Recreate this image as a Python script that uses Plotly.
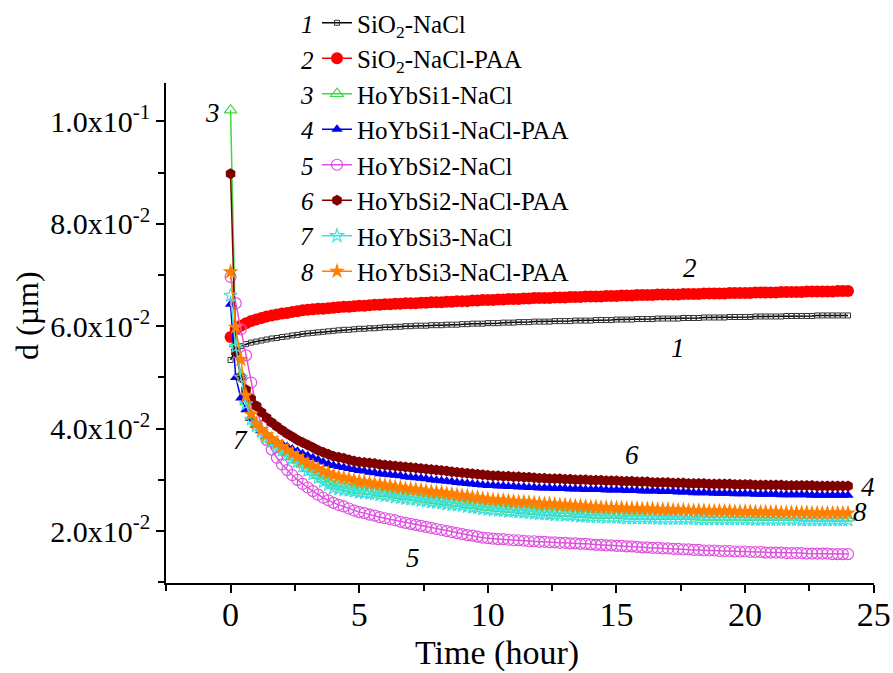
import plotly.graph_objects as go

# Sampling times (hours)
TIME_H = [
    0.0, 0.2, 0.4, 0.6, 0.8, 1.0, 1.2, 1.4, 1.6, 1.8,
    2.0, 2.2, 2.4, 2.6, 2.8, 3.0, 3.2, 3.4, 3.6, 3.8,
    4.0, 4.2, 4.4, 4.6, 4.8, 5.0, 5.2, 5.4, 5.6, 5.8,
    6.0, 6.2, 6.4, 6.6, 6.8, 7.0, 7.2, 7.4, 7.6, 7.8,
    8.0, 8.2, 8.4, 8.6, 8.8, 9.0, 9.2, 9.4, 9.6, 9.8,
    10.0, 10.2, 10.4, 10.6, 10.8, 11.0, 11.2, 11.4, 11.6, 11.8,
    12.0, 12.2, 12.4, 12.6, 12.8, 13.0, 13.2, 13.4, 13.6, 13.8,
    14.0, 14.2, 14.4, 14.6, 14.8, 15.0, 15.2, 15.4, 15.6, 15.8,
    16.0, 16.2, 16.4, 16.6, 16.8, 17.0, 17.2, 17.4, 17.6, 17.8,
    18.0, 18.2, 18.4, 18.6, 18.8, 19.0, 19.2, 19.4, 19.6, 19.8,
    20.0, 20.2, 20.4, 20.6, 20.8, 21.0, 21.2, 21.4, 21.6, 21.8,
    22.0, 22.2, 22.4, 22.6, 22.8, 23.0, 23.2, 23.4, 23.6, 23.8,
    24.0,
]

# Particle size d (um) for each sample
D_SIO2_NACL = [
    0.0534, 0.0554, 0.0561, 0.0565, 0.0568, 0.0570, 0.0572, 0.0574, 0.0576, 0.0577,
    0.0579, 0.0580, 0.0582, 0.0583, 0.0585, 0.0586, 0.0587, 0.0588, 0.0589, 0.0590,
    0.0591,
    0.0592, 0.0593, 0.0593, 0.0594, 0.0595,
    0.0595, 0.0596, 0.0596, 0.0597, 0.0598,
    0.0598, 0.0599, 0.0599, 0.0600, 0.0600,
    0.0601, 0.0601, 0.0601, 0.0602, 0.0602,
    0.0602, 0.0603, 0.0603, 0.0603, 0.0604,
    0.0604, 0.0605, 0.0605, 0.0605, 0.0606,
    0.0606, 0.0606, 0.0607, 0.0607, 0.0607,
    0.0608, 0.0608, 0.0608, 0.0609, 0.0609,
    0.0609, 0.0609, 0.0610, 0.0610, 0.0610,
    0.0610, 0.0611, 0.0611, 0.0611, 0.0611,
    0.0612, 0.0612, 0.0612, 0.0612, 0.0613,
    0.0613, 0.0613, 0.0613, 0.0614, 0.0614,
    0.0614, 0.0614, 0.0615, 0.0615, 0.0615,
    0.0615, 0.0615, 0.0616, 0.0616, 0.0616,
    0.0616, 0.0617, 0.0617, 0.0617, 0.0617,
    0.0617, 0.0618, 0.0618, 0.0618, 0.0618,
    0.0618, 0.0619, 0.0619, 0.0619, 0.0619,
    0.0619, 0.0619, 0.0620, 0.0620, 0.0620,
    0.0620, 0.0620, 0.0620, 0.0621, 0.0621,
    0.0621, 0.0621, 0.0621, 0.0621, 0.0621,
]

D_SIO2_NACL_PAA = [
    0.0579, 0.0594, 0.0601, 0.0606, 0.0610, 0.0613, 0.0616, 0.0619, 0.0621, 0.0623,
    0.0625, 0.0626, 0.0628, 0.0629, 0.0631, 0.0632, 0.0633, 0.0634, 0.0634, 0.0635,
    0.0636,
    0.0637, 0.0638, 0.0638, 0.0639, 0.0640,
    0.0640, 0.0641, 0.0642, 0.0642, 0.0643,
    0.0643, 0.0644, 0.0644, 0.0645, 0.0645,
    0.0645, 0.0646, 0.0646, 0.0647, 0.0647,
    0.0647, 0.0648, 0.0648, 0.0649, 0.0649,
    0.0649, 0.0650, 0.0650, 0.0651, 0.0651,
    0.0651, 0.0652, 0.0652, 0.0653, 0.0653,
    0.0653, 0.0654, 0.0654, 0.0655, 0.0655,
    0.0655, 0.0655, 0.0656, 0.0656, 0.0656,
    0.0657, 0.0657, 0.0657, 0.0658, 0.0658,
    0.0658, 0.0658, 0.0659, 0.0659, 0.0659,
    0.0660, 0.0660, 0.0660, 0.0661, 0.0661,
    0.0661, 0.0661, 0.0662, 0.0662, 0.0662,
    0.0662, 0.0662, 0.0663, 0.0663, 0.0663,
    0.0663, 0.0664, 0.0664, 0.0664, 0.0664,
    0.0664, 0.0665, 0.0665, 0.0665, 0.0665,
    0.0665, 0.0666, 0.0666, 0.0666, 0.0666,
    0.0666, 0.0667, 0.0667, 0.0667, 0.0667,
    0.0667, 0.0668, 0.0668, 0.0668, 0.0668,
    0.0668, 0.0668, 0.0669, 0.0669, 0.0669,
]

D_HOYBSI1_NACL = [
    0.1022, 0.0565, 0.0505, 0.0452, 0.0422, 0.0408, 0.0397, 0.0386, 0.0377, 0.0368,
    0.0360, 0.0352, 0.0345, 0.0338, 0.0330, 0.0322, 0.0315, 0.0308, 0.0301, 0.0295,
    0.0289,
    0.0287, 0.0285, 0.0283, 0.0281, 0.0279,
    0.0278, 0.0277, 0.0276, 0.0274, 0.0273,
    0.0272, 0.0270, 0.0269, 0.0267, 0.0266,
    0.0265, 0.0263, 0.0262, 0.0260, 0.0259,
    0.0258, 0.0256, 0.0255, 0.0254, 0.0253,
    0.0251, 0.0250, 0.0249, 0.0247, 0.0246,
    0.0245, 0.0244, 0.0243, 0.0242, 0.0242,
    0.0241, 0.0240, 0.0239, 0.0238, 0.0237,
    0.0237, 0.0236, 0.0235, 0.0235, 0.0234,
    0.0234, 0.0233, 0.0232, 0.0232, 0.0231,
    0.0231, 0.0231, 0.0230, 0.0230, 0.0230,
    0.0230, 0.0229, 0.0229, 0.0229, 0.0229,
    0.0229, 0.0229, 0.0228, 0.0228, 0.0228,
    0.0228, 0.0228, 0.0228, 0.0228, 0.0228,
    0.0227, 0.0227, 0.0227, 0.0227, 0.0227,
    0.0227, 0.0227, 0.0227, 0.0227, 0.0227,
    0.0226, 0.0226, 0.0226, 0.0226, 0.0226,
    0.0226, 0.0226, 0.0226, 0.0226, 0.0226,
    0.0225, 0.0225, 0.0225, 0.0225, 0.0225,
    0.0225, 0.0225, 0.0225, 0.0225, 0.0225,
]

D_HOYBSI1_NACL_PAA = [
    0.0643, 0.0500, 0.0460, 0.0437, 0.0420, 0.0407, 0.0397, 0.0388, 0.0381, 0.0375,
    0.0370, 0.0365, 0.0360, 0.0356, 0.0351, 0.0347, 0.0343, 0.0339, 0.0335, 0.0331,
    0.0328,
    0.0326, 0.0324, 0.0322, 0.0320, 0.0318,
    0.0317, 0.0315, 0.0314, 0.0312, 0.0311,
    0.0310, 0.0309, 0.0308, 0.0306, 0.0305,
    0.0304, 0.0303, 0.0302, 0.0300, 0.0299,
    0.0298, 0.0297, 0.0296, 0.0295, 0.0294,
    0.0293, 0.0292, 0.0291, 0.0290, 0.0289,
    0.0289, 0.0288, 0.0288, 0.0287, 0.0287,
    0.0286, 0.0286, 0.0285, 0.0285, 0.0284,
    0.0284, 0.0284, 0.0283, 0.0283, 0.0283,
    0.0282, 0.0282, 0.0282, 0.0281, 0.0281,
    0.0281, 0.0281, 0.0280, 0.0280, 0.0280,
    0.0280, 0.0279, 0.0279, 0.0279, 0.0278,
    0.0278, 0.0278, 0.0278, 0.0277, 0.0277,
    0.0277, 0.0276, 0.0276, 0.0276, 0.0275,
    0.0275, 0.0275, 0.0275, 0.0274, 0.0274,
    0.0274, 0.0274, 0.0273, 0.0273, 0.0273,
    0.0273, 0.0272, 0.0272, 0.0272, 0.0272,
    0.0272, 0.0271, 0.0271, 0.0271, 0.0271,
    0.0271, 0.0271, 0.0270, 0.0270, 0.0270,
    0.0270, 0.0270, 0.0270, 0.0270, 0.0270,
]

D_HOYBSI2_NACL = [
    0.0696, 0.0645, 0.0594, 0.0543, 0.0490, 0.0442, 0.0405, 0.0378, 0.0359, 0.0343,
    0.0330, 0.0319, 0.0309, 0.0300, 0.0292, 0.0285, 0.0278, 0.0271, 0.0265, 0.0260,
    0.0255,
    0.0251, 0.0248, 0.0244, 0.0240, 0.0237,
    0.0235, 0.0232, 0.0230, 0.0227, 0.0225,
    0.0223, 0.0221, 0.0218, 0.0216, 0.0214,
    0.0212, 0.0210, 0.0208, 0.0206, 0.0204,
    0.0202, 0.0200, 0.0198, 0.0196, 0.0194,
    0.0192, 0.0191, 0.0189, 0.0187, 0.0186,
    0.0185, 0.0184, 0.0184, 0.0183, 0.0182,
    0.0182, 0.0181, 0.0180, 0.0180, 0.0179,
    0.0179, 0.0178, 0.0178, 0.0177, 0.0177,
    0.0176, 0.0176, 0.0175, 0.0175, 0.0174,
    0.0173, 0.0173, 0.0172, 0.0172, 0.0171,
    0.0171, 0.0170, 0.0170, 0.0169, 0.0168,
    0.0168, 0.0167, 0.0167, 0.0166, 0.0166,
    0.0165, 0.0165, 0.0164, 0.0164, 0.0163,
    0.0163, 0.0162, 0.0162, 0.0162, 0.0161,
    0.0161, 0.0161, 0.0160, 0.0160, 0.0160,
    0.0159, 0.0159, 0.0159, 0.0158, 0.0158,
    0.0158, 0.0158, 0.0157, 0.0157, 0.0157,
    0.0157, 0.0156, 0.0156, 0.0156, 0.0156,
    0.0156, 0.0155, 0.0155, 0.0155, 0.0155,
]

D_HOYBSI2_NACL_PAA = [
    0.0898, 0.0550, 0.0500, 0.0476, 0.0458, 0.0444, 0.0432, 0.0421, 0.0412, 0.0404,
    0.0397, 0.0390, 0.0384, 0.0378, 0.0373, 0.0368, 0.0363, 0.0358, 0.0354, 0.0350,
    0.0346,
    0.0344, 0.0342, 0.0339, 0.0337, 0.0335,
    0.0334, 0.0333, 0.0332, 0.0330, 0.0329,
    0.0328, 0.0327, 0.0326, 0.0325, 0.0324,
    0.0323, 0.0322, 0.0321, 0.0320, 0.0319,
    0.0318, 0.0317, 0.0316, 0.0315, 0.0314,
    0.0313, 0.0312, 0.0311, 0.0310, 0.0309,
    0.0308, 0.0308, 0.0307, 0.0307, 0.0306,
    0.0306, 0.0305, 0.0305, 0.0304, 0.0303,
    0.0303, 0.0302, 0.0302, 0.0302, 0.0301,
    0.0301, 0.0300, 0.0300, 0.0300, 0.0299,
    0.0299, 0.0299, 0.0298, 0.0298, 0.0298,
    0.0297, 0.0297, 0.0297, 0.0296, 0.0296,
    0.0296, 0.0295, 0.0295, 0.0295, 0.0295,
    0.0294, 0.0294, 0.0294, 0.0293, 0.0293,
    0.0293, 0.0293, 0.0292, 0.0292, 0.0292,
    0.0292, 0.0292, 0.0291, 0.0291, 0.0291,
    0.0291, 0.0290, 0.0290, 0.0290, 0.0290,
    0.0290, 0.0290, 0.0289, 0.0289, 0.0289,
    0.0289, 0.0289, 0.0289, 0.0288, 0.0288,
    0.0288, 0.0288, 0.0288, 0.0288, 0.0288,
]

D_HOYBSI3_NACL = [
    0.0660, 0.0560, 0.0500, 0.0448, 0.0418, 0.0405, 0.0394, 0.0383, 0.0374, 0.0365,
    0.0357, 0.0349, 0.0342, 0.0335, 0.0326, 0.0318, 0.0311, 0.0304, 0.0296, 0.0290,
    0.0284,
    0.0282, 0.0280, 0.0279, 0.0277, 0.0275,
    0.0274, 0.0273, 0.0272, 0.0270, 0.0269,
    0.0268, 0.0266, 0.0265, 0.0263, 0.0262,
    0.0261, 0.0259, 0.0258, 0.0256, 0.0255,
    0.0254, 0.0252, 0.0251, 0.0250, 0.0249,
    0.0247, 0.0246, 0.0245, 0.0243, 0.0242,
    0.0241, 0.0240, 0.0239, 0.0238, 0.0238,
    0.0237, 0.0236, 0.0235, 0.0234, 0.0233,
    0.0233, 0.0232, 0.0231, 0.0231, 0.0230,
    0.0230, 0.0229, 0.0228, 0.0228, 0.0227,
    0.0227, 0.0227, 0.0226, 0.0226, 0.0226,
    0.0226, 0.0225, 0.0225, 0.0225, 0.0225,
    0.0225, 0.0225, 0.0224, 0.0224, 0.0224,
    0.0224, 0.0224, 0.0224, 0.0224, 0.0224,
    0.0223, 0.0223, 0.0223, 0.0223, 0.0223,
    0.0223, 0.0223, 0.0223, 0.0223, 0.0223,
    0.0222, 0.0222, 0.0222, 0.0222, 0.0222,
    0.0222, 0.0222, 0.0222, 0.0222, 0.0222,
    0.0221, 0.0221, 0.0221, 0.0221, 0.0221,
    0.0221, 0.0221, 0.0221, 0.0221, 0.0221,
]

D_HOYBSI3_NACL_PAA = [
    0.0706, 0.0598, 0.0535, 0.0465, 0.0428, 0.0410, 0.0398, 0.0388, 0.0380, 0.0372,
    0.0365, 0.0358, 0.0351, 0.0345, 0.0338, 0.0332, 0.0327, 0.0322, 0.0317, 0.0313,
    0.0309,
    0.0306, 0.0304, 0.0302, 0.0299, 0.0297,
    0.0296, 0.0294, 0.0292, 0.0291, 0.0289,
    0.0288, 0.0286, 0.0285, 0.0283, 0.0282,
    0.0281, 0.0280, 0.0278, 0.0277, 0.0276,
    0.0275, 0.0273, 0.0272, 0.0270, 0.0269,
    0.0268, 0.0266, 0.0265, 0.0263, 0.0262,
    0.0261, 0.0260, 0.0260, 0.0259, 0.0258,
    0.0257, 0.0257, 0.0256, 0.0255, 0.0254,
    0.0253, 0.0253, 0.0252, 0.0251, 0.0251,
    0.0250, 0.0249, 0.0249, 0.0248, 0.0247,
    0.0247, 0.0246, 0.0246, 0.0246, 0.0245,
    0.0245, 0.0244, 0.0244, 0.0244, 0.0243,
    0.0243, 0.0243, 0.0242, 0.0242, 0.0242,
    0.0241, 0.0241, 0.0241, 0.0240, 0.0240,
    0.0240, 0.0240, 0.0239, 0.0239, 0.0239,
    0.0239, 0.0239, 0.0238, 0.0238, 0.0238,
    0.0238, 0.0237, 0.0237, 0.0237, 0.0237,
    0.0237, 0.0236, 0.0236, 0.0236, 0.0236,
    0.0236, 0.0236, 0.0235, 0.0235, 0.0235,
    0.0235, 0.0235, 0.0235, 0.0235, 0.0235,
]

SERIES_NAMES = [
    "SiO<sub>2</sub>-NaCl",
    "SiO<sub>2</sub>-NaCl-PAA",
    "HoYbSi1-NaCl",
    "HoYbSi1-NaCl-PAA",
    "HoYbSi2-NaCl",
    "HoYbSi2-NaCl-PAA",
    "HoYbSi3-NaCl",
    "HoYbSi3-NaCl-PAA",
]
SERIES_VALUES = [
    D_SIO2_NACL, D_SIO2_NACL_PAA, D_HOYBSI1_NACL, D_HOYBSI1_NACL_PAA,
    D_HOYBSI2_NACL, D_HOYBSI2_NACL_PAA, D_HOYBSI3_NACL, D_HOYBSI3_NACL_PAA,
]
SERIES_NUMBERS = ["1", "2", "3", "4", "5", "6", "7", "8"]

Y_TICK_VALUES = [0.02, 0.04, 0.06, 0.08, 0.10]
Y_TICK_LABELS = [
    "2.0x10<sup>-2</sup>", "4.0x10<sup>-2</sup>", "6.0x10<sup>-2</sup>",
    "8.0x10<sup>-2</sup>", "1.0x10<sup>-1</sup>",
]
Y_MINOR_VALUES = [0.01, 0.03, 0.05, 0.07, 0.09]

X_TITLE = "Time (hour)"
Y_TITLE = "d (\u00b5m)"

# Curve number labels placed next to their curves: (text, time, d)
CURVE_LABELS = [
    ("3", -0.72, 0.1017),
    ("2", 17.85, 0.0713),
    ("1", 17.38, 0.0557),
    ("7", 0.37, 0.0377),
    ("6", 15.6, 0.0348),
    ("4", 24.76, 0.0286),
    ("8", 24.45, 0.0237),
    ("5", 7.09, 0.0147),
]

STYLES = [
    dict(line="#000000", marker=dict(symbol="square-open", size=5, color="#333333", line=dict(width=1))),
    dict(line="#ff0000", marker=dict(symbol="circle", size=12, color="#ff0000")),
    dict(line="#40d840", marker=dict(symbol="triangle-up-open", size=11, color="#40d840", line=dict(width=1.2))),
    dict(line="#0000e0", marker=dict(symbol="triangle-up", size=10, color="#0000f0")),
    dict(line="#e050e0", marker=dict(symbol="circle-open", size=11, color="#e050e0", line=dict(width=1.2))),
    dict(line="#800000", marker=dict(symbol="hexagon", size=11, color="#800000")),
    dict(line="#40e0e0", marker=dict(symbol="star-open", size=10, color="#40e0e0", line=dict(width=1.2))),
    dict(line="#ff8000", marker=dict(symbol="star", size=12, color="#ff8000")),
]

FONT = "Liberation Serif, Times New Roman, serif"

fig = go.Figure()
for name, values, style in zip(SERIES_NAMES, SERIES_VALUES, STYLES):
    fig.add_trace(go.Scatter(
        x=TIME_H, y=values, name=name, mode="lines+markers",
        line=dict(color=style["line"], width=1.5),
        marker=style["marker"],
    ))

# Layout in pixels: the paper spans the top of the figure down to the x axis,
# the plot area sits in its lower part (top 83, bottom 583, left 166, right 874).
FIG_W, FIG_H = 893, 673
PLOT_L, PLOT_R, PLOT_T, PLOT_B = 166, 874, 83, 583
PLOT_W = PLOT_R - PLOT_L


def px_x(px):
    return (px - PLOT_L) / PLOT_W


def px_y(py):
    return (PLOT_B - py) / PLOT_B


LEGEND_TOP = 0
LEGEND_ROW = 35.3
LEGEND_FIRST = 25

annotations = []
for text, t, d in CURVE_LABELS:
    annotations.append(dict(
        x=t, y=d, xref="x", yref="y", text=f"<i>{text}</i>", showarrow=False,
        font=dict(family=FONT, size=27, color="#000000"),
    ))
for i, num in enumerate(SERIES_NUMBERS):
    annotations.append(dict(
        x=px_x(316), y=px_y(LEGEND_FIRST + LEGEND_ROW * i),
        xref="paper", yref="paper", xanchor="right", yanchor="middle",
        text=f"<i>{num}</i>", showarrow=False,
        font=dict(family=FONT, size=25, color="#000000"),
    ))
# axis titles
annotations.append(dict(
    x=px_x(497), y=px_y(653), xref="paper", yref="paper",
    xanchor="center", yanchor="middle", text=X_TITLE, showarrow=False,
    font=dict(family=FONT, size=34, color="#000000"),
))
annotations.append(dict(
    x=px_x(27), y=px_y(316), xref="paper", yref="paper",
    xanchor="center", yanchor="middle", text=Y_TITLE, showarrow=False,
    textangle=-90, font=dict(family=FONT, size=32, color="#000000"),
))

fig.update_layout(
    width=FIG_W, height=FIG_H,
    margin=dict(l=PLOT_L, r=FIG_W - PLOT_R, t=0, b=FIG_H - PLOT_B),
    paper_bgcolor="white", plot_bgcolor="white",
    font=dict(family=FONT, color="#000000"),
    showlegend=True,
    legend=dict(
        x=px_x(317), y=px_y(LEGEND_TOP),
        xanchor="left", yanchor="top",
        font=dict(family=FONT, size=25, color="#000000"),
        bgcolor="rgba(0,0,0,0)", borderwidth=0,
        tracegroupgap=0,
    ),
    annotations=annotations,
    xaxis=dict(
        range=[-2.51, 25.01], tickmode="linear", tick0=0, dtick=5,
        automargin=False,
        showgrid=False, zeroline=False,
        showline=True, linecolor="#000000", linewidth=1.5,
        ticks="outside", ticklen=8, tickwidth=1.5, tickcolor="#000000",
        tickfont=dict(family=FONT, size=34),
        ticklabelstandoff=-8,
        minor=dict(tick0=0, dtick=2.5, ticks="outside", ticklen=6,
                   tickwidth=1.5, tickcolor="#000000", showgrid=False),
    ),
    yaxis=dict(
        domain=[0, (PLOT_B - PLOT_T) / PLOT_B],
        range=[0.00985, 0.1075], tickmode="array",
        tickvals=Y_TICK_VALUES, ticktext=Y_TICK_LABELS,
        automargin=False,
        showgrid=False, zeroline=False,
        showline=True, linecolor="#000000", linewidth=1.5,
        ticks="outside", ticklen=8, tickwidth=1.5, tickcolor="#000000",
        tickfont=dict(family=FONT, size=30),
        minor=dict(tickmode="array", tickvals=Y_MINOR_VALUES, ticks="outside",
                   ticklen=6, tickwidth=1.5, tickcolor="#000000", showgrid=False),
    ),
)

fig.write_html("out.html")
